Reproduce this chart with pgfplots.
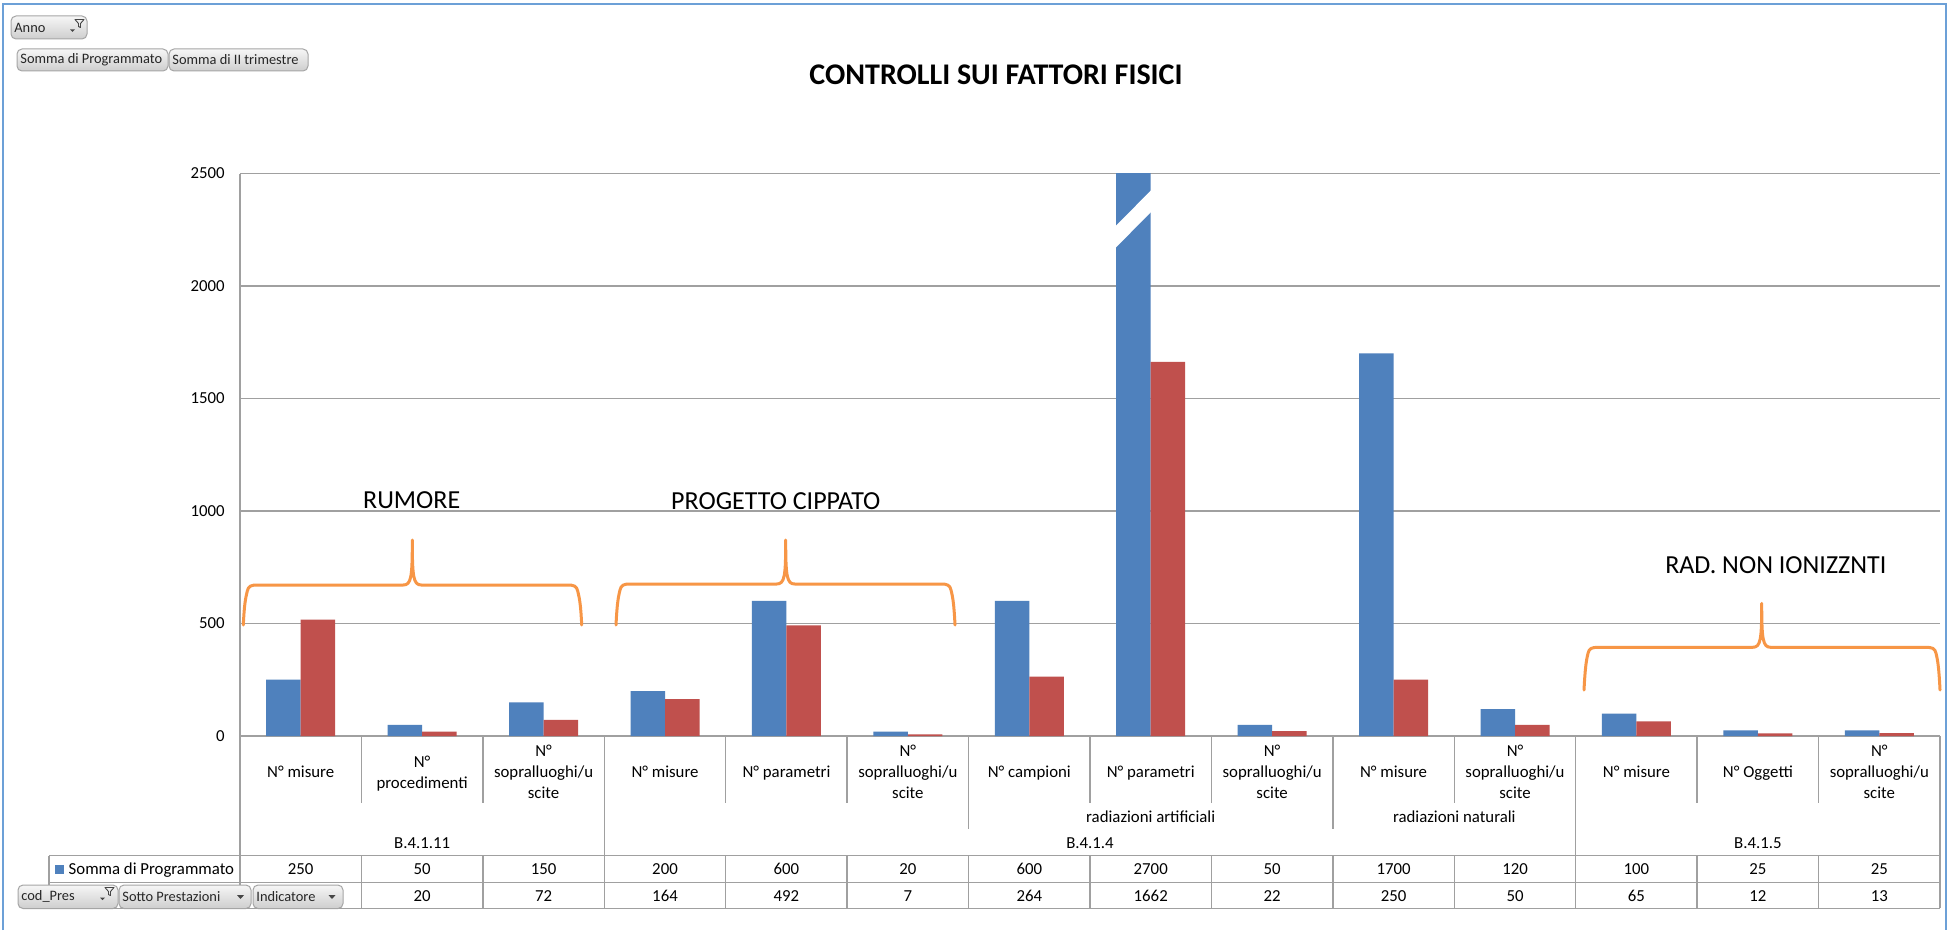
\documentclass[border=0pt]{standalone}
\usepackage{pgfplots}
\pgfplotsset{compat=1.18}
\usepackage{pgfplotstable}
\usepackage{fontspec}
\setmainfont{Carlito}

\definecolor{xlblue}{RGB}{79,129,189}
\definecolor{xlred}{RGB}{192,80,77}
\definecolor{xlorange}{RGB}{247,150,70}
\definecolor{gridgray}{RGB}{160,160,160}
\definecolor{framblue}{RGB}{108,160,215}
\definecolor{btntop}{RGB}{246,246,246}
\definecolor{btnbot}{RGB}{206,206,206}
\definecolor{btnborder}{RGB}{165,165,165}
\definecolor{icongray}{RGB}{70,70,70}

\newcommand\catfont{\fontsize{8.4}{10.5}\selectfont}
\newcommand\btnfont{\fontsize{7.2}{8}\selectfont}
\newcommand\annfont{\fontsize{13}{15}\selectfont}
\newcommand\titfont{\fontsize{15}{17}\selectfont\bfseries}

\pgfplotstableread{
idx prog trim
0  250  517
1  50   20
2  150  72
3  200  164
4  600  492
5  20   7
6  600  264
7  2700 1662
8  50   22
9  1700 250
10 120  50
11 100  65
12 25   12
13 25   13
}\datatab

% curly bracket: xl xc xr ytop ycusp ybot (pixel units, y downward)
\newcommand\cbrace[6]{%
  \draw[xlorange, line width=1.5pt, line cap=round, line join=round]
   (#1,#6) .. controls (#1+1,#6-20) and (#1+2,#4+14) .. (#1+4,#4+6)
   .. controls (#1+5,#4+1) and (#1+8,#4) .. (#1+14,#4)
   -- (#2-9,#4) .. controls (#2-1,#4) and (#2,#4-8) .. (#2,#5)
   .. controls (#2,#4-8) and (#2+1,#4) .. (#2+9,#4)
   -- (#3-14,#4) .. controls (#3-8,#4) and (#3-5,#4+1) .. (#3-4,#4+6)
   .. controls (#3-2,#4+14) and (#3-1,#6-20) .. (#3,#6);
}
% pivot button: x1 y1 x2 y2 text
\newcommand\pbtn[5]{%
  \shade[top color=btntop, bottom color=btnbot, draw=btnborder, line width=0.5pt, rounded corners=2.5pt] (#1,#2) rectangle (#3,#4);
  \node[anchor=west, font=\btnfont, inner sep=0pt, text=black!85] at (#1+3,{(#2+#4)/2}) {#5};
}
\newcommand\dropdown[2]{% center x, y
  \fill[icongray] (#1-3.5,#2-1.8) -- (#1+3.5,#2-1.8) -- (#1,#2+1.8) -- cycle;
}
\newcommand\filtericon[2]{% left x, top y
  \draw[icongray, line width=0.45pt, line join=round] (#1+5,#2) -- (#1+14,#2) -- (#1+10.5,#2+4) -- (#1+10.5,#2+8) -- (#1+8.5,#2+7) -- (#1+8.5,#2+4) -- cycle;
  \fill[icongray] (#1,#2+10) -- (#1+5,#2+10) -- (#1+2.5,#2+12.5) -- cycle;
}

\begin{document}
\begin{tikzpicture}
\begin{scope}[x=0.5pt,y=-0.5pt]
  \useasboundingbox (0,0) rectangle (1952,917);
  \fill[white] (0,0) rectangle (1952,917);
\end{scope}

\begin{axis}[
  at={(120pt,-368pt)}, anchor=south west,
  scale only axis, width=850pt, height=281.3pt,
  xmin=-0.5, xmax=13.5, ymin=0, ymax=2500,
  ybar=0pt, bar width=17.25pt,
  axis line style={draw=none},
  ymajorgrids, grid style={line width=0.7pt, color=gridgray},
  ytick={0,500,1000,1500,2000,2500},
  major tick length=0pt,
  xtick={0,1,...,13},
  xticklabels={{N° misure},{N°\\\smash{procedimenti}},{N°\\sopralluoghi/u\\scite},
    {N° misure},{N° \smash{parametri}},{N°\\sopralluoghi/u\\scite},
    {N° \smash{campioni}},{N° \smash{parametri}},{N°\\sopralluoghi/u\\scite},
    {N° misure},{N°\\sopralluoghi/u\\scite},
    {N° misure},{N° \smash{Oggetti}},{N°\\sopralluoghi/u\\scite}},
  xticklabel style={font=\catfont, align=center, anchor=center, yshift=-18pt, inner sep=0pt},
  yticklabel style={font=\catfont, anchor=east, inner sep=0pt, xshift=-7.5pt},
  /pgf/number format/assume math mode=true,
  /pgf/number format/1000 sep={},
]
\addplot[fill=xlblue, draw=none] table[x=idx, y=prog] {\datatab};
\addplot[fill=xlred, draw=none] table[x=idx, y=trim] {\datatab};
\end{axis}

\begin{scope}[x=0.5pt,y=-0.5pt]
  % outer frame
  \draw[framblue, line width=1.2pt] (3,930) -- (3,4) -- (1946,4) -- (1946,930);
  % title
  \node[font=\titfont, inner sep=0pt] at (996,75) {CONTROLLI SUI FATTORI FISICI};
  % break mark on the 2700 bar
  \fill[white] (1113,228.7) -- (1154.5,186.8) -- (1154.5,208.5) -- (1113,250.4) -- cycle;
  % vertical axis line and separators
  \draw[gridgray, line width=0.7pt] (240,174) -- (240,908.3);
  \foreach \k in {1,2,4,5,7,8,10,12,13}
    \draw[gridgray, line width=0.7pt] ({240+121.4286*\k},736) -- ({240+121.4286*\k},803);
  \foreach \k in {6,9}
    \draw[gridgray, line width=0.7pt] ({240+121.4286*\k},736) -- ({240+121.4286*\k},829);
  \foreach \k in {3,11,14}
    \draw[gridgray, line width=0.7pt] ({240+121.4286*\k},736) -- ({240+121.4286*\k},908.3);
  \foreach \k in {1,2,4,5,6,7,8,9,10,12,13}
    \draw[gridgray, line width=0.7pt] ({240+121.4286*\k},855.7) -- ({240+121.4286*\k},908.3);
  % table
  \foreach \yy in {855.7,882.3,908.3}
    \draw[gridgray, line width=0.7pt] (49,\yy) -- (1940,\yy);
  \draw[gridgray, line width=0.7pt] (49,855.7) -- (49,908.3);
  % sub-levels of category axis
  \node[font=\catfont, anchor=base, inner sep=0pt] at (1150.7,822.2) {radiazioni artificiali};
  \node[font=\catfont, anchor=base, inner sep=0pt] at (1454.3,822.2) {radiazioni naturali};
  \node[font=\catfont, anchor=base, inner sep=0pt] at (422.1,848.1) {B.4.1.11};
  \node[font=\catfont, anchor=base, inner sep=0pt] at (1090,848.1) {B.4.1.4};
  \node[font=\catfont, anchor=base, inner sep=0pt] at (1757.9,848.1) {B.4.1.5};
  % data table values (first value of row 2 is hidden under the field buttons)
  \foreach \v [count=\i from 0] in {250,50,150,200,600,20,600,2700,50,1700,120,100,25,25}
    \node[font=\catfont, anchor=base, inner sep=0pt] at ({240+121.4286*(\i+0.5)},874.3) {\v};
  \foreach \v [count=\i from 1] in {20,72,164,492,7,264,1662,22,250,50,65,12,13}
    \node[font=\catfont, anchor=base, inner sep=0pt] at ({240+121.4286*(\i+0.5)},901.3) {\v};
  % legend key row 1
  \fill[xlblue] (55,865) rectangle (63.5,873.5);
  \node[font=\catfont, anchor=base west, inner sep=0pt] at (68.3,874.3) {Somma di Programmato};
  % braces and annotations
  \cbrace{243.3}{412.3}{581.7}{585}{540}{625}
  \cbrace{616}{785.7}{955}{584}{540}{625}
  \cbrace{1584}{1761.7}{1940}{647.3}{603.3}{690}
  \node[font=\annfont, inner sep=0pt] at (411.7,500) {RUMORE};
  \node[font=\annfont, inner sep=0pt] at (775.8,501.5) {PROGETTO CIPPATO};
  \node[font=\annfont, inner sep=0pt] at (1775.8,565.5) {RAD.\ NON IONIZZNTI};
  % pivot field buttons, top
  \pbtn{11}{16}{87}{39}{Anno}
  \filtericon{70}{19.5}
  \pbtn{17}{49}{168}{71}{Somma di Programmato}
  \pbtn{169}{49}{308}{71}{Somma di II trimestre}
  % pivot field buttons, bottom
  \pbtn{18}{885}{118}{908.5}{cod\_Pres}
  \filtericon{100}{887.5}
  \pbtn{119}{885}{251}{908.5}{Sotto Prestazioni}
  \dropdown{240.5}{897}
  \pbtn{253}{885}{343}{908.5}{Indicatore}
  \dropdown{332}{897}
\end{scope}
\end{tikzpicture}
\end{document}
